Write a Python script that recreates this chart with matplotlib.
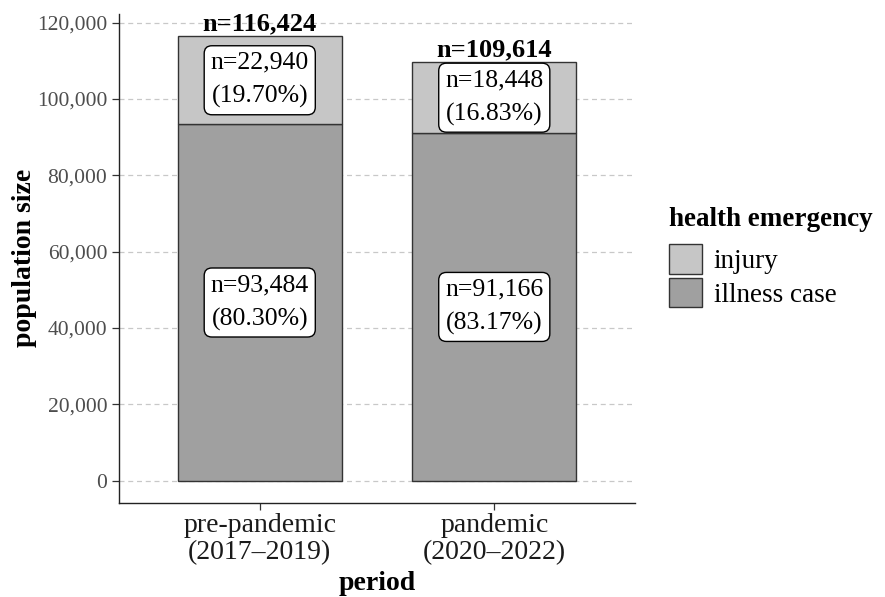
import matplotlib
matplotlib.use("Agg")
import matplotlib.pyplot as plt
from matplotlib.patches import Patch

plt.rcParams['font.family'] = ['Liberation Serif', 'DejaVu Serif']

periods = ["pre-pandemic\n(2017\u20132019)", "pandemic\n(2020\u20132022)"]
illness = [93484, 91166]
injury = [22940, 18448]
totals = [illness[i] + injury[i] for i in range(len(illness))]
yticks = [0, 20000, 40000, 60000, 80000, 100000, 120000]

col_injury = "#c6c6c6"
col_illness = "#a0a0a0"

fig = plt.figure(figsize=(8.85, 5.97), dpi=100)
ax = fig.add_axes([0.1345, 0.1575, 0.583, 0.819])

x = [1, 2]
for yv in yticks:
    ax.axhline(yv, color="#c8c8c8", lw=0.9, ls=(0, (4, 3)), zorder=0)

ax.bar(x, illness, width=0.7, color=col_illness, edgecolor="#333333", lw=1, zorder=2)
ax.bar(x, injury, width=0.7, bottom=illness, color=col_injury, edgecolor="#333333", lw=1, zorder=2)

box = dict(boxstyle="round,pad=0.25,rounding_size=0.3", fc="white", ec="black", lw=1)
for i in range(len(x)):
    p_ill = illness[i] / totals[i] * 100
    p_inj = injury[i] / totals[i] * 100
    ax.text(x[i], illness[i] / 2, f"n={illness[i]:,}\n({p_ill:.2f}%)", ha="center", va="center",
            fontsize=18.5, linespacing=1.65, bbox=box, zorder=3)
    ax.text(x[i], illness[i] + injury[i] / 2, f"n={injury[i]:,}\n({p_inj:.2f}%)", ha="center", va="center",
            fontsize=18.5, linespacing=1.65, bbox=box, zorder=3)
    ax.text(x[i], totals[i] + 200, f"n={totals[i]:,}", ha="center", va="bottom",
            fontsize=19, fontweight="bold", zorder=3)

ax.set_xlim(0.4, 2.6)
ax.set_ylim(-5821, 122245)
ax.set_xticks(x)
ax.set_xticklabels(periods, fontsize=20, color="#1a1a1a", linespacing=1.1)
ax.set_yticks(yticks)
ax.set_yticklabels([f"{v:,}" for v in yticks], fontsize=15.5, color="#4d4d4d")
ax.tick_params(axis="both", direction="out", length=5, width=0.9, color="#333333")
ax.tick_params(axis="x", pad=2)

for s in ["top", "right"]:
    ax.spines[s].set_visible(False)
for s in ["left", "bottom"]:
    ax.spines[s].set_color("#222222")
    ax.spines[s].set_linewidth(1)

fig.text(25 / 885, 1 - 258 / 597, "population size", rotation=90, ha="center", va="center",
         fontsize=20, fontweight="bold")
fig.text(377 / 885, 1 - 583 / 597, "period", ha="center", va="center",
         fontsize=20, fontweight="bold")

# legend title drawn separately to get the ggplot-like gap above the keys
fig.text(669 / 885, 1 - 220 / 597, "health emergency", ha="left", va="center",
         fontsize=19.5, fontweight="bold")
handles = [Patch(facecolor=col_injury, edgecolor="#333333", label="injury"),
           Patch(facecolor=col_illness, edgecolor="#333333", label="illness case")]
leg = fig.legend(handles=handles, loc="upper left",
                 bbox_to_anchor=(669 / 885, 1 - 244 / 597), frameon=False, fontsize=19.5,
                 handlelength=1.2, handleheight=1.3, handletextpad=0.45, labelspacing=0.15,
                 borderaxespad=0, borderpad=0)

fig.savefig("out.png", dpi=100)
